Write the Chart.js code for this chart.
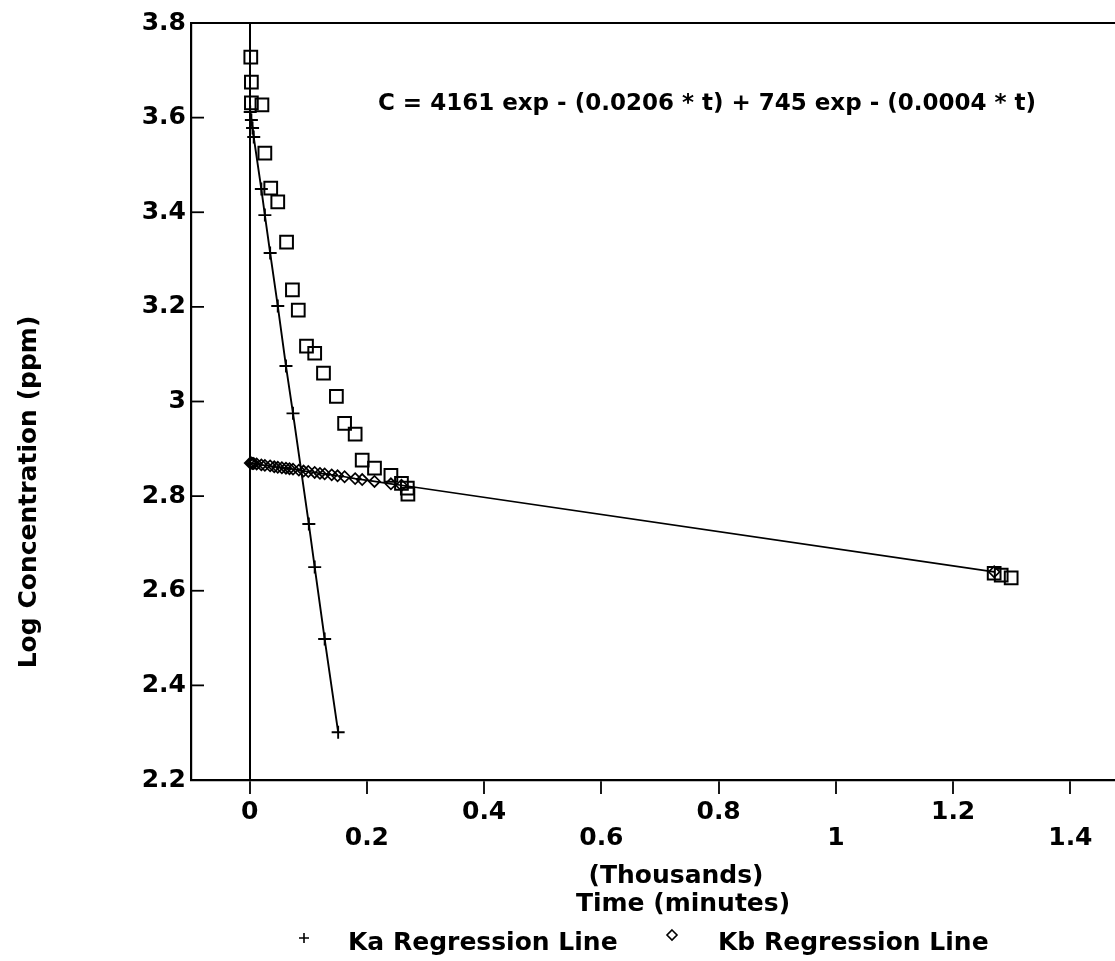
<!DOCTYPE html>
<html>
<head>
<meta charset="utf-8">
<script src="https://cdn.jsdelivr.net/npm/chart.js@4.4.1/dist/chart.umd.min.js"></script>
<style>
  html, body { margin: 0; padding: 0; background: #fff; overflow: hidden; }
  #wrap { position: relative; width: 1140px; height: 961px; }
</style>
</head>
<body>
<div id="wrap"><canvas id="chart"></canvas></div>
<script>
// time in thousands of minutes, values are log10 concentration (ppm)
const obsTime = [0.002, 0.003, 0.003, 0.021, 0.026, 0.036, 0.048, 0.063, 0.073, 0.083, 0.097, 0.111, 0.126,
  0.148, 0.162, 0.180, 0.192, 0.213, 0.241, 0.259, 0.269, 0.270, 1.270, 1.282, 1.299]
const obsLogConc = [3.728, 3.675, 3.631, 3.627, 3.525, 3.451, 3.422, 3.337, 3.236, 3.193, 3.117, 3.102, 3.060,
  3.011, 2.954, 2.931, 2.876, 2.859, 2.844, 2.827, 2.817, 2.804, 2.637, 2.633, 2.627]

const kaTime = [0.001, 0.003, 0.005, 0.007, 0.020, 0.026, 0.035, 0.048, 0.062, 0.074, 0.101, 0.111, 0.128, 0.151]
const kaLogConc = [3.612, 3.595, 3.578, 3.559, 3.449, 3.394, 3.314, 3.202, 3.075, 2.975, 2.741, 2.650, 2.498, 2.301]

const kbTime = [0.001, 0.003, 0.005, 0.007, 0.012, 0.020, 0.026, 0.035, 0.042, 0.048, 0.055, 0.062, 0.068, 0.074,
  0.084, 0.092, 0.100, 0.111, 0.120, 0.128, 0.140, 0.150, 0.162, 0.180, 0.192, 0.213, 0.241, 0.259, 1.270]
const kbLogConc = [2.870, 2.870, 2.869, 2.869, 2.868, 2.866, 2.865, 2.864, 2.862, 2.861, 2.860, 2.859, 2.858, 2.857,
  2.855, 2.853, 2.852, 2.850, 2.848, 2.847, 2.845, 2.843, 2.841, 2.837, 2.835, 2.831, 2.826, 2.823, 2.640]

const xTicks = [0, 0.2, 0.4, 0.6, 0.8, 1, 1.2, 1.4]
const equation = "C = 4161 exp - (0.0206 * t) + 745 exp - (0.0004 * t)"
const yTitle = "Log Concentration (ppm)"
const xTitle = ["(Thousands)", "Time (minutes)"]
const seriesNames = ["Ka Regression Line", "Kb Regression Line"]

const FONT = '"DejaVu Sans", sans-serif'
const toPoints = (xs, ys) => xs.map((x, i) => ({ x: x, y: ys[i] }))

const decorations = {
  id: "decorations",
  afterDraw(chart) {
    const { ctx, chartArea: area } = chart
    const y = chart.scales.y
    ctx.save()
    ctx.strokeStyle = "#000"
    ctx.fillStyle = "#000"

    // frame top and right
    ctx.lineWidth = 2.2
    ctx.beginPath()
    ctx.moveTo(area.left, area.top)
    ctx.lineTo(area.right, area.top)
    ctx.lineTo(area.right, area.bottom)
    ctx.stroke()

    // y ticks point into the plot
    ctx.lineWidth = 1.8
    y.ticks.forEach((t) => {
      const py = y.getPixelForValue(t.value)
      ctx.beginPath()
      ctx.moveTo(area.left, py)
      ctx.lineTo(area.left + 13, py)
      ctx.stroke()
    })

    ctx.font = "bold 23px " + FONT
    ctx.textAlign = "center"
    ctx.textBaseline = "alphabetic"
    ctx.fillText(equation, 707, 110)

    ctx.font = "bold 25px " + FONT
    ctx.fillText(xTitle[0], 676, 883)
    ctx.fillText(xTitle[1], 683, 911)

    ctx.save()
    ctx.translate(36, 492)
    ctx.rotate(-Math.PI / 2)
    ctx.fillText(yTitle, 0, 0)
    ctx.restore()

    // legend
    ctx.textAlign = "left"
    ctx.fillText(seriesNames[0], 348, 950)
    ctx.fillText(seriesNames[1], 718, 950)
    ctx.lineWidth = 1.6
    ctx.beginPath()
    ctx.moveTo(299, 938)
    ctx.lineTo(309, 938)
    ctx.moveTo(304, 933)
    ctx.lineTo(304, 943)
    ctx.stroke()
    ctx.beginPath()
    ctx.moveTo(672, 930)
    ctx.lineTo(677, 935)
    ctx.lineTo(672, 940)
    ctx.lineTo(667, 935)
    ctx.closePath()
    ctx.stroke()
    ctx.restore()
  },
}

new Chart(document.getElementById("chart"), {
  type: "scatter",
  data: {
    datasets: [
      {
        label: "Observed",
        data: toPoints(obsTime, obsLogConc),
        showLine: false,
        pointStyle: "rect",
        pointRadius: 9,
        borderColor: "#000",
        backgroundColor: "rgba(0,0,0,0)",
        borderWidth: 2,
      },
      {
        label: seriesNames[0],
        data: toPoints(kaTime, kaLogConc),
        showLine: true,
        pointStyle: "cross",
        pointRadius: 6.5,
        borderColor: "#000",
        backgroundColor: "#000",
        borderWidth: 1.9,
      },
      {
        label: seriesNames[1],
        data: toPoints(kbTime, kbLogConc),
        showLine: true,
        pointStyle: "rectRot",
        pointRadius: 5.5,
        borderColor: "#000",
        backgroundColor: "rgba(0,0,0,0)",
        borderWidth: 1.7,
      },
    ],
  },
  options: {
    responsive: true,
    maintainAspectRatio: false,
    animation: false,
    layout: { padding: { top: 23, right: 9, left: 0, bottom: 0 } },
    plugins: {
      legend: { display: false },
      tooltip: { enabled: false },
    },
    scales: {
      x: {
        type: "linear",
        min: -0.1,
        max: 1.5,
        afterFit: (s) => { s.height = 181 },
        afterBuildTicks: (s) => { s.ticks = xTicks.map((v) => ({ value: v })) },
        border: { display: true, color: "#000", width: 2.2 },
        grid: {
          color: (c) => (c.tick && c.tick.value === 0 ? "#000" : "rgba(0,0,0,0)"),
          lineWidth: 2,
          tickColor: "#000",
          tickWidth: 1.8,
          tickLength: 14,
        },
        ticks: {
          padding: 5,
          maxRotation: 0,
          autoSkip: false,
          color: "#000",
          font: { family: FONT, size: 25, weight: "bold", lineHeight: 1.05 },
          callback: (v, i) => {
            const label = String(Number(v.toFixed(1)))
            return i % 2 === 1 ? ["", label] : label
          },
        },
      },
      y: {
        type: "linear",
        min: 2.2,
        max: 3.8,
        afterFit: (s) => { s.width = 191 },
        border: { display: true, color: "#000", width: 2.2 },
        grid: { display: false, drawTicks: false, tickLength: 0 },
        ticks: {
          stepSize: 0.2,
          padding: 5,
          color: "#000",
          font: { family: FONT, size: 25, weight: "bold" },
          callback: (v) => String(Number(v.toFixed(1))),
        },
      },
    },
  },
  plugins: [decorations],
})
</script>
</body>
</html>
